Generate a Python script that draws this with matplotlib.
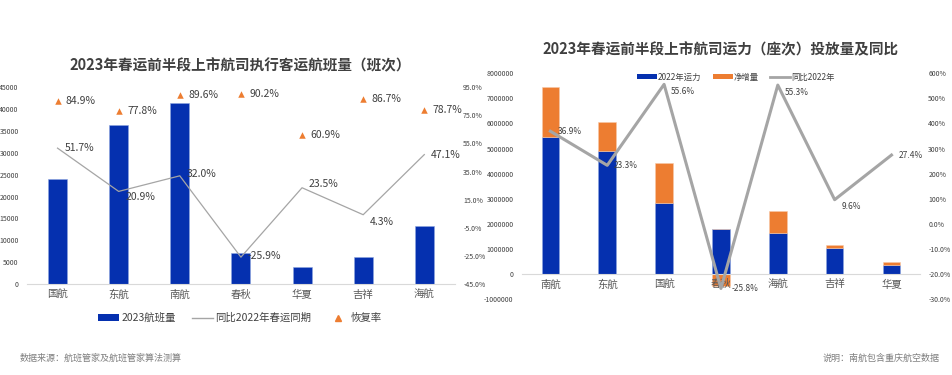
import matplotlib
matplotlib.use("Agg")
import matplotlib.pyplot as plt
import matplotlib.ticker as mticker
import numpy as np
from matplotlib.lines import Line2D
from matplotlib.patches import Patch

plt.rcParams['font.family'] = ['Noto Sans CJK SC', 'DejaVu Sans']
plt.rcParams['axes.unicode_minus'] = False

# === 数据 ===
# 左图: 执行客运航班量
left_airlines = ['国航', '东航', '南航', '春秋', '华夏', '吉祥', '海航']
flights_2023 = [23950, 36300, 41340, 7020, 3820, 6110, 13340]
yoy_2022 = [51.7, 20.9, 32.0, -25.9, 23.5, 4.3, 47.1]
recovery = [84.9, 77.8, 89.6, 90.2, 60.9, 86.7, 78.7]

# 右图: 运力(座次)
right_airlines = ['南航', '东航', '国航', '春秋', '海航', '吉祥', '华夏']
capacity_2022 = [5450000, 4890000, 2830000, 1790000, 1620000, 1050000, 360000]
net_increase = [2020000, 1160000, 1580000, -470000, 900000, 100000, 100000]
capacity_yoy = [36.9, 23.3, 55.6, -25.8, 55.3, 9.6, 27.4]
right_pct_labels = ['-30.0%', '-20.0%', '-10.0%', '0.0%', '100%', '200%',
                    '300%', '400%', '500%', '600%']

BLUE = '#0530AF'
ORANGE = '#ED7D31'
GRAY = '#A5A5A5'
TXT = '#404040'
AXC = '#D9D9D9'

fig = plt.figure(figsize=(9.53, 3.75), dpi=100)

# === 1. 左图 ===
ax1 = fig.add_axes([0.0283, 0.2427, 0.449, 0.5245])
x = np.arange(len(left_airlines))
ax1.bar(x, flights_2023, width=0.31, color=BLUE, edgecolor='#8FA6E0', linewidth=0.4, zorder=2)
ax1.set_xlim(-0.5, len(left_airlines) - 0.5)
ax1.set_ylim(0, 45000)
ax1.set_yticks(range(0, 45001, 5000))
ax1.set_xticks(x)
ax1.set_xticklabels(left_airlines, fontsize=7.5, color='#595959')
ax1.tick_params(axis='y', labelsize=5, colors='#404040', length=0, pad=6)
ax1.tick_params(axis='x', length=0, pad=4)
for s in ['top', 'right', 'left']:
    ax1.spines[s].set_visible(False)
ax1.spines['bottom'].set_color(AXC)

ax1b = ax1.twinx()
ax1b.set_ylim(-45, 95)
ax1b.set_yticks(range(-45, 96, 20))
ax1b.set_yticklabels([f'{v:.1f}%' for v in range(-45, 96, 20)])
ax1b.tick_params(axis='y', labelsize=5, colors='#404040', length=0, pad=6)
for s in ax1b.spines.values():
    s.set_visible(False)
ax1b.plot(x, yoy_2022, color=GRAY, linewidth=0.9, zorder=3)
ax1b.scatter(x, recovery, marker='^', s=22, color=ORANGE, zorder=4, linewidths=0)

yoy_offsets = [(5, 0), (5, -4), (5, 1), (5, 1), (5, 3), (5, -5), (5, 0)]
for xi, v, off in zip(x, yoy_2022, yoy_offsets):
    ax1b.annotate(f'{v:.1f}%', (xi, v), xytext=off, textcoords='offset points',
                  fontsize=7.5, color=TXT, va='center', ha='left')
for xi, v in zip(x, recovery):
    ax1b.annotate(f'{v:.1f}%', (xi, v), xytext=(6, 0), textcoords='offset points',
                  fontsize=7.5, color=TXT, va='center', ha='left')

fig.text(0.252, 0.826, '2023年春运前半段上市航司执行客运航班量（班次）', ha='center', va='center',
         fontsize=10.5, fontweight='bold', color=TXT)

left_handles = [Patch(facecolor=BLUE, edgecolor='none'),
                Line2D([0], [0], color=GRAY, linewidth=1),
                Line2D([0], [0], marker='^', color=ORANGE, linestyle='none', markersize=5)]
fig.legend(left_handles, ['2023航班量', '同比2022年春运同期', '恢复率'],
           loc='center', bbox_to_anchor=(0.252, 0.152), ncol=3, frameon=False,
           fontsize=7.5, labelcolor=TXT, handlelength=2.0, handleheight=0.6,
           columnspacing=1.6, handletextpad=0.2)

# === 2. 右图 ===
ax2 = fig.add_axes([0.5477, 0.2027, 0.4176, 0.6018])
ax2.spines['bottom'].set_position(('data', 0))
ax2.set_axisbelow(False)
x2 = np.arange(len(right_airlines))
ax2.bar(x2, capacity_2022, width=0.31, color=BLUE, edgecolor='#8FA6E0', linewidth=0.4, zorder=2)
pos_inc = [max(v, 0) for v in net_increase]
neg_inc = [min(v, 0) for v in net_increase]
ax2.bar(x2, pos_inc, bottom=capacity_2022, width=0.31, color=ORANGE,
        edgecolor='#F8C9A8', linewidth=0.4, zorder=2)
ax2.bar(x2, neg_inc, width=0.31, color=ORANGE, edgecolor='#F8C9A8', linewidth=0.4, zorder=2)
ax2.set_xlim(-0.5, len(right_airlines) - 0.5)
ax2.set_ylim(-1000000, 8000000)
ax2.set_yticks(range(-1000000, 8000001, 1000000))
ax2.yaxis.set_major_formatter(mticker.FuncFormatter(lambda v, p: f'{int(v)}'))
ax2.set_xticks(x2)
ax2.set_xticklabels(right_airlines, fontsize=7.5, color='#595959')
ax2.tick_params(axis='y', labelsize=5, colors='#404040', length=0, pad=6)
ax2.tick_params(axis='x', length=0, pad=4)
for s in ['top', 'right', 'left']:
    ax2.spines[s].set_visible(False)
ax2.spines['bottom'].set_color(AXC)

ax2b = ax2.twinx()
ax2b.set_ylim(-30, 60)
ax2b.set_yticks(range(-30, 61, 10))
ax2b.set_yticklabels(right_pct_labels)
ax2b.tick_params(axis='y', labelsize=5, colors='#404040', length=0, pad=6)
for s in ax2b.spines.values():
    s.set_visible(False)
ax2b.plot(x2, capacity_yoy, color=GRAY, linewidth=2.2, zorder=3)

cap_offsets = [(5, 0), (5, 0), (5, -5), (8, 0), (5, -5), (5, -5), (5, 0)]
for xi, v, off in zip(x2, capacity_yoy, cap_offsets):
    ax2b.annotate(f'{v:.1f}%', (xi, v), xytext=off, textcoords='offset points',
                  fontsize=6, color=TXT, va='center', ha='left')

fig.text(0.756, 0.868, '2023年春运前半段上市航司运力（座次）投放量及同比', ha='center', va='center',
         fontsize=10.5, fontweight='bold', color=TXT)

right_handles = [Patch(facecolor=BLUE, edgecolor='none'),
                 Patch(facecolor=ORANGE, edgecolor='none'),
                 Line2D([0], [0], color=GRAY, linewidth=2)]
fig.legend(right_handles, ['2022年运力', '净增量', '同比2022年'],
           loc='center', bbox_to_anchor=(0.772, 0.794), ncol=3, frameon=False,
           fontsize=6, labelcolor=TXT, handlelength=2.4, handleheight=0.5,
           columnspacing=1.3, handletextpad=0.15)

# === 脚注 ===
fig.text(0.021, 0.045, '数据来源：航班管家及航班管家算法测算', ha='left', va='center',
         fontsize=6.5, color='#7F7F7F')
fig.text(0.986, 0.045, '说明：南航包含重庆航空数据', ha='right', va='center',
         fontsize=6.5, color='#7F7F7F')

fig.savefig('out.png', dpi=100, facecolor='white')
